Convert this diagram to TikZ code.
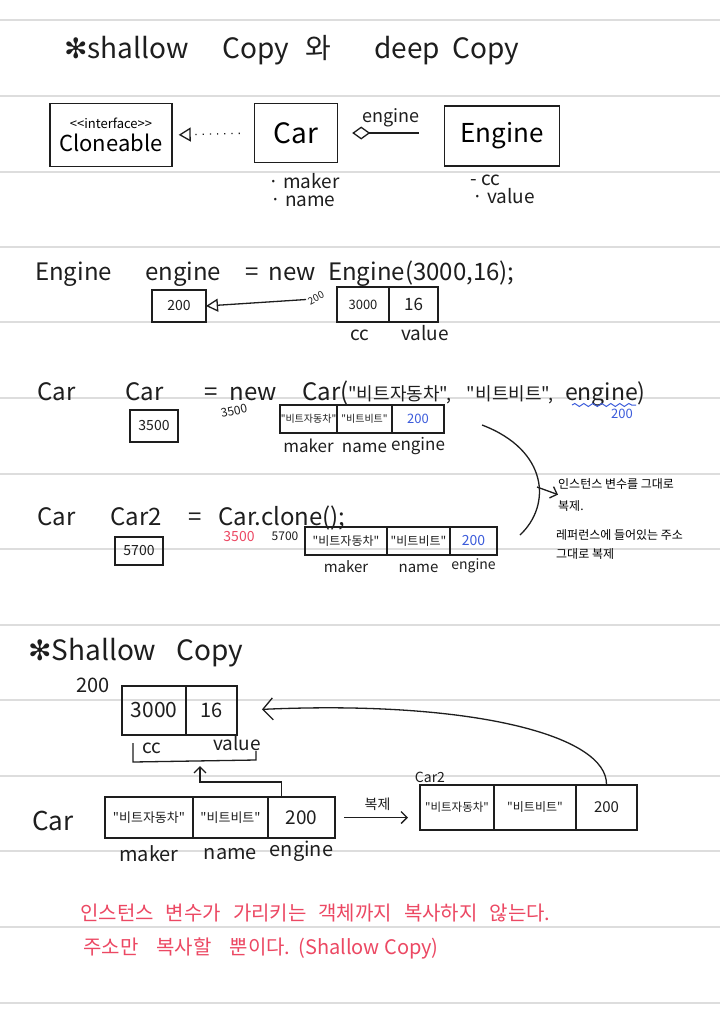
\documentclass[tikz,border=0pt]{standalone}
\usepackage{fontspec}
\setmainfont{Noto Sans CJK KR}[Ligatures=TeXOff]
\newfontfamily\symfont{DejaVu Sans}
\usetikzlibrary{arrows.meta,positioning,decorations.pathmorphing}
\definecolor{Ink}{HTML}{1E1E1E}
\definecolor{RuleGray}{HTML}{DDDDDD}
\definecolor{PenRed}{HTML}{EC4863}
\definecolor{PenBlue}{HTML}{3B5BDB}
\newcommand{\fsz}[1]{\fontsize{#1}{#1}\selectfont}

\begin{document}
\begin{tikzpicture}[x=1pt, y=-1pt,
  rule/.style={RuleGray, line width=1.2pt},
  hand/.style={Ink, inner sep=0pt, font=\fsz{#1}},
  fld/.style={hand=#1, text height={0.72*#1pt}, text depth={0.22*#1pt}},
  code/.style={hand=24, anchor=base west},
  cls/.style={draw=Ink, line width=1.4pt, align=center, inner sep=0pt},
  cell/.style={draw=Ink, line width=1.3pt, inner sep=0pt, outer sep=0pt, minimum height=#1, text=Ink},
  cell/.default=28pt,
  link/.style={Ink, line width=1.3pt},
  barb/.style={-{Straight Barb[length=6pt, width=12pt]}}
]
\fill[white] (0,0) rectangle (720,1018);
\useasboundingbox (0,0) rectangle (720,1018);

% ruled paper
\foreach \ry in {20,96,172,247,322,398,474,549,625,700,776,851,927,1003}
  \draw[rule] (0,\ry) -- (720,\ry);

% title
\node[code, font=\fsz{28}] (ttlA) at (64,58) {{\symfont ✻}shallow};
\node[code, font=\fsz{28}] (ttlB) at (222,58) {Copy};
\node[code, font=\fsz{28}] (ttlC) at (305,58) {와};
\node[code, font=\fsz{28}] (ttlD) at (374,58) {deep};
\node[code, font=\fsz{28}] (ttlE) at (452,58) {Copy};

% class diagram
\node[cls, minimum width=122pt, minimum height=63pt] (clone) at (111,135) {\fsz{13}<<interface>>\\[4pt]\fsz{22}Cloneable};
\node[cls, minimum width=83pt, minimum height=59pt, font=\fsz{28}] (car) at (296,133) {Car};
\node[cls, minimum width=115pt, minimum height=60pt, font=\fsz{26}] (engine) at (502,136) {Engine};

\draw[link, dash pattern=on 1.2pt off 6pt, -{Triangle[open, length=12pt, width=14pt]}, shorten <=14pt, shorten >=6pt] (car.west) -- (clone.east);
\draw[link, {Diamond[open, length=18pt, width=13pt]}-, shorten <=14pt, shorten >=25pt] (car.east) -- (car.east -| engine.west)
  node[midway, above=5pt, hand=18] (assoc) {engine};

\node[hand=19, anchor=west] (mkr) at (268,181) {· maker};
\node[hand=19, anchor=west] (nam) at (270,201) {· name};
\node[hand=19, anchor=west] (ccA) at (470,180) {- cc};
\node[hand=19, anchor=west] (valA) at (472,196) {· value};

% Engine engine = new Engine(3000,16);
\node[code] (s2a) at (35,280) {Engine};
\node[code] (s2b) at (145,280) {engine};
\node[code] (s2c) at (245,280) {=\hspace{10pt}new};
\node[code] (s2d) at (328,280) {Engine(3000,16);};

\node[cell=35pt, minimum width=52pt, anchor=north west, font=\fsz{13}] (cc3000) at (337,287) {3000};
\node[cell=35pt, minimum width=49pt, right=0pt of cc3000, font=\fsz{17}] (val16) {16};
\node[cell=32pt, minimum width=54pt, anchor=north west, font=\fsz{14}] (ref200) at (152,290) {200};
\node[fld=19, anchor=base] (lcc) at (360,340) {cc};
\node[fld=19, anchor=base] (lval) at (425,340) {value};
\draw[link, -{Triangle[open, length=12pt, width=13pt]}, shorten <=31pt] ([yshift=7pt]cc3000.west) -- (ref200.east);
\node[hand=10, rotate=28] (adr200) at (316,298) {200};

% Car car = new Car(...)
\node[code] (s3a) at (37,400) {Car};
\node[code] (s3b) at (125,400) {Car};
\node[code] (s3c) at (204,400) {=\hspace{12pt}new};
\node[code] (s3d) at (302,400) {Car(\fsz{18}"비트자동차",\hspace{16pt}"비트비트",\hspace{12pt}\fsz{23}engine)};
\draw[PenBlue, line width=1pt, decorate, decoration={snake, amplitude=1.5pt, segment length=9pt}] (572,405) -- (636,405);
\node[hand=13, text=PenBlue] (eng200) at (622,414) {200};

\node[cell=32pt, minimum width=48pt, anchor=north west, font=\fsz{14}] (ref3500) at (130,410) {3500};
\node[hand=12, rotate=12] (adr3500) at (234,411) {3500};

\node[cell, minimum width=57pt, anchor=north west, font=\fsz{10}] (mk1) at (280,405) {"비트자동차"};
\node[cell, minimum width=55pt, right=0pt of mk1, font=\fsz{10}] (nm1) {"비트비트"};
\node[cell, minimum width=52pt, right=0pt of nm1, font=\fsz{13}, text=PenBlue] (en1) {200};
\node[fld=17, below=7pt of mk1] (lmk1) {maker};
\node[fld=17, below=7pt of nm1] (lnm1) {name};
\node[fld=17, below=5pt of en1] (len1) {engine};

% same values copied
\coordinate (brTop) at (482,425);
\coordinate (brBot) at (520,535);
\coordinate (brMid) at (537,487);
\draw[link] (brTop) .. controls (548,450) and (552,505) .. (brBot);
\node[anchor=north west, align=left, inner sep=0pt, font=\fontsize{12}{22}\selectfont] (noteA) at (558,478) {인스턴스 변수를 그대로\\복제.};
\node[anchor=north west, align=left, inner sep=0pt, font=\fontsize{12}{19}\selectfont] (noteB) at (556,529) {레퍼런스에 들어있는 주소\\그대로 복제};
\draw[link, barb] (brMid) -- (noteA.west);

% Car car2 = car.clone();
\node[code] (s4a) at (37,525) {Car};
\node[code] (s4b) at (110,525) {Car2};
\node[code] (s4c) at (188,525) {=};
\node[code] (s4d) at (218,525) {Car.clone();};

\node[cell, minimum width=48pt, anchor=north west, font=\fsz{14}] (ref5700) at (115,537) {5700};
\node[hand=14, text=PenRed] (adr3500r) at (239,537) {3500};
\node[hand=12] (adr5700) at (285,536) {5700};

\node[cell, minimum width=82pt, anchor=north west, font=\fsz{12}] (mk2) at (305,527) {"비트자동차"};
\node[cell, minimum width=63pt, right=0pt of mk2, font=\fsz{12}] (nm2) {"비트비트"};
\node[cell, minimum width=47pt, right=0pt of nm2, font=\fsz{14}, text=PenBlue] (en2) {200};
\node[fld=15, below=6pt of mk2] (lmk2) {maker};
\node[fld=15, below=6pt of nm2] (lnm2) {name};
\node[fld=14, below=4pt of en2] (len2) {engine};

% Shallow Copy
\node[code, font=\fsz{28}] (ttl2) at (28,660) {{\symfont ✻}Shallow\hspace{20pt}Copy};
\node[hand=20] (adr200b) at (93,685) {200};
\node[cell=49pt, minimum width=64pt, anchor=north west, font=\fsz{21}] (f3000) at (122,686) {3000};
\node[cell=49pt, minimum width=51pt, right=0pt of f3000, font=\fsz{20}] (f16) {16};
\node[hand=19] (lcc2) at (152,748) {cc};
\node[hand=19] (lval2) at (237,743) {value};
\draw[link] (133,743) -- (133,762) -- (256,760) -- (256,751);
\coordinate (brk) at (200,766);

\node[code, font=\fsz{26}] (s5a) at (32,830) {Car};
\node[cell=41pt, minimum width=88pt, anchor=north west, font=\fsz{13}] (mk4) at (105,797) {"비트자동차"};
\node[cell=41pt, minimum width=75pt, right=0pt of mk4, font=\fsz{13}] (nm4) {"비트비트"};
\node[cell=41pt, minimum width=67pt, right=0pt of nm4, font=\fsz{19}] (en4) {200};
\node[fld=20, below=9pt of mk4] (lmk4) {maker};
\node[fld=20, below=7pt of nm4] (lnm4) {name};
\node[fld=20, below=4pt of en4] (len4) {engine};

\node[hand=14] (lcar2) at (430,777) {Car2};
\node[cell=45pt, minimum width=74pt, anchor=north west, font=\fsz{11.5}] (mk5) at (420,785) {"비트자동차"};
\node[cell=45pt, minimum width=82pt, right=0pt of mk5, font=\fsz{12}] (nm5) {"비트비트"};
\node[cell=45pt, minimum width=61pt, right=0pt of nm5, font=\fsz{15}] (en5) {200};

\draw[link, barb] ([xshift=-20pt]en4.north) -- ++(0,-15) -| (brk);
\draw[link, barb, shorten <=9pt, shorten >=12pt] (en4.east) -- (en4.east -| mk5.west)
  node[midway, above=6pt, hand=14] (lcopy) {복제};
\draw[link, -{Straight Barb[length=10pt, width=22pt]}, shorten >=25pt] (en5.north) .. controls (608,735) and (470,700) .. (f16.east);

% summary
\node[hand=20, text=PenRed, anchor=west] (sum1) at (80,913) {인스턴스\hspace{12pt}변수가\hspace{12pt}가리키는\hspace{12pt}객체까지\hspace{12pt}복사하지\hspace{12pt}않는다.};
\node[hand=20, text=PenRed, anchor=west] (sum2) at (83,948) {주소만\hspace{18pt}복사할\hspace{18pt}뿐이다.\hspace{8pt}(Shallow Copy)};

\end{tikzpicture}
\end{document}
